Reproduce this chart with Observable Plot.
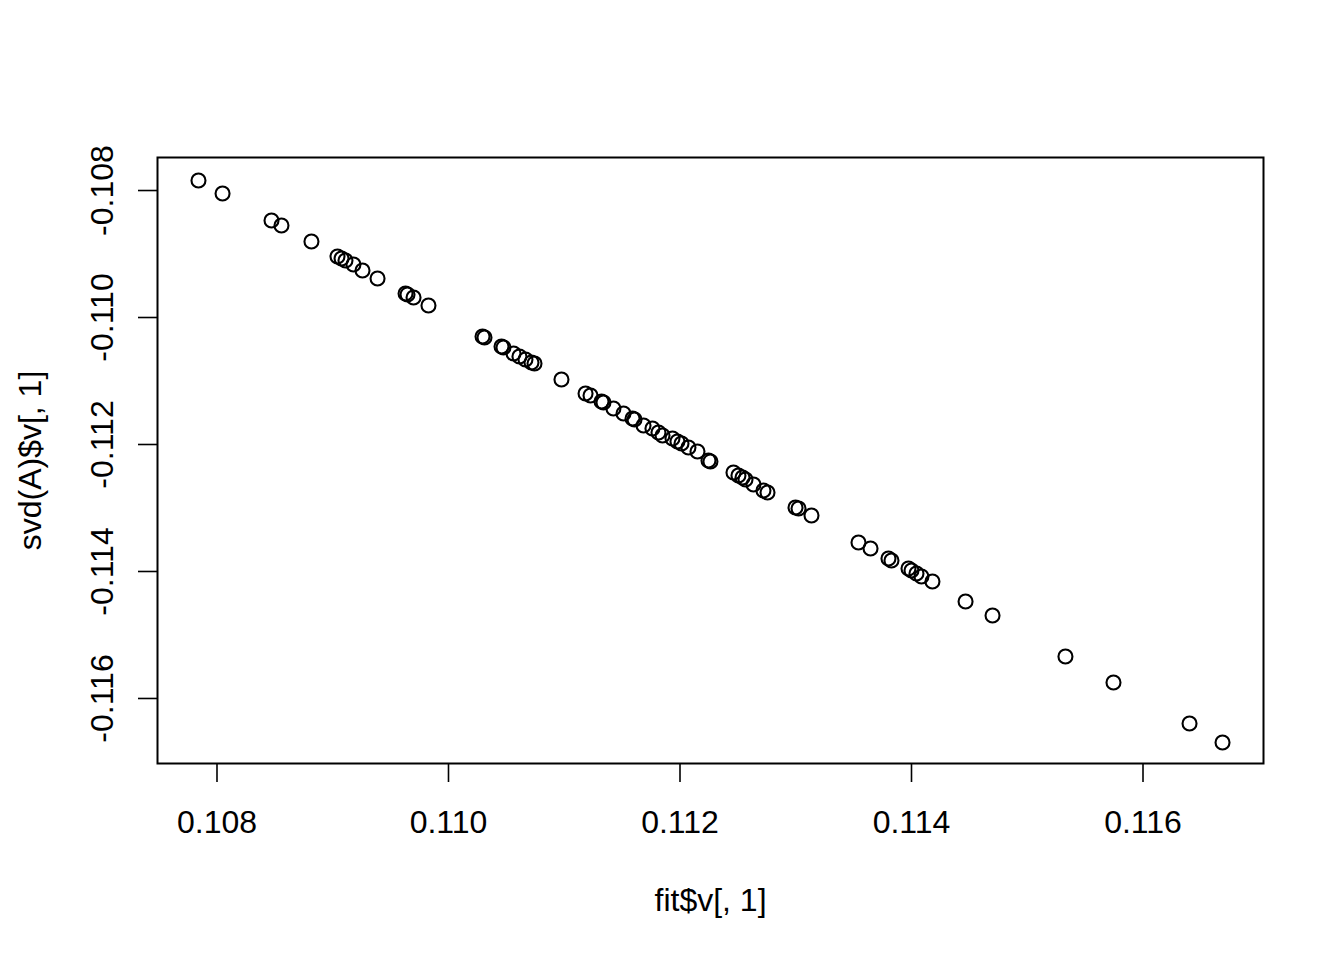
<!DOCTYPE html>
<html>
<head>
<meta charset="utf-8">
<script src="https://cdn.jsdelivr.net/npm/d3@7"></script>
<script src="https://cdn.jsdelivr.net/npm/@observablehq/plot@0.6"></script>
<style>
  html, body { margin: 0; padding: 0; background: #fff; }
  #chart { width: 1344px; height: 960px; }
</style>
</head>
<body>
<div id="chart"></div>
<script>
// fit$v[, 1] vs svd(A)$v[, 1].
const fitV = [
  0.107840, 0.108048, 0.108471, 0.108557, 0.108816, 0.109041, 0.109076, 0.109110,
  0.109179, 0.109257, 0.109387, 0.109629, 0.109646, 0.109698, 0.109827,
  0.110294, 0.110311, 0.110458, 0.110475, 0.110562, 0.110613, 0.110665, 0.110717,
  0.110743, 0.110976,
  0.111184, 0.111227, 0.111322, 0.111339, 0.111425, 0.111512, 0.111590, 0.111607,
  0.111685, 0.111762, 0.111814, 0.111849, 0.111935, 0.111978, 0.112013, 0.112073,
  0.112151, 0.112246, 0.112263,
  0.112462, 0.112505, 0.112540, 0.112566, 0.112635, 0.112721, 0.112756,
  0.112998, 0.113024, 0.113136,
  0.113542, 0.113646, 0.113801, 0.113827, 0.113974, 0.114000, 0.114043, 0.114086,
  0.114181, 0.114467, 0.114700, 0.115330, 0.115745, 0.116402, 0.116687
];
const svdV = [
  -0.107843, -0.108047, -0.108472, -0.108551, -0.108803, -0.109039, -0.109071, -0.109102,
  -0.109165, -0.109260, -0.109386, -0.109622, -0.109638, -0.109685, -0.109811,
  -0.110299, -0.110315, -0.110457, -0.110472, -0.110567, -0.110614, -0.110661, -0.110709,
  -0.110724, -0.110976,
  -0.111197, -0.111228, -0.111323, -0.111339, -0.111433, -0.111512, -0.111591, -0.111606,
  -0.111701, -0.111748, -0.111811, -0.111858, -0.111906, -0.111953, -0.111984, -0.112047,
  -0.112110, -0.112252, -0.112268,
  -0.112441, -0.112488, -0.112520, -0.112551, -0.112630, -0.112724, -0.112756,
  -0.112992, -0.113008, -0.113118,
  -0.113543, -0.113638, -0.113795, -0.113827, -0.113953, -0.113984, -0.114031, -0.114079,
  -0.114157, -0.114472, -0.114693, -0.115339, -0.115748, -0.116394, -0.116693
];
const xTicks = [0.108, 0.110, 0.112, 0.114, 0.116];
const yTicks = [-0.116, -0.114, -0.112, -0.110, -0.108];
const xTitle = "fit$v[, 1]";
const yTitle = "svd(A)$v[, 1]";

const points = fitV.map(function (x, i) { return { x: x, y: svdV[i] }; });
const fmt = function (d) { return d.toFixed(3); };

const chart = Plot.plot({
  width: 1344,
  height: 960,
  marginLeft: 157,
  marginRight: 81,
  marginTop: 157,
  marginBottom: 197,
  style: {
    background: "#fff",
    color: "#000",
    fontFamily: "'Liberation Sans', Arial, Helvetica, sans-serif",
    fontSize: "32px",
    overflow: "visible",
  },
  // R pads the data range by 4% on each side
  x: { domain: [0.107486, 0.117041], inset: 0 },
  y: { domain: [-0.117024, -0.107480], inset: 0 },
  marks: [
    Plot.axisX({
      ticks: xTicks, tickFormat: fmt, tickSize: 19, tickPadding: 28,
      strokeWidth: 1.6, fontSize: 32, label: null,
    }),
    Plot.axisY({
      ticks: yTicks, tickFormat: fmt, tickSize: 19, tickPadding: 26,
      tickRotate: -90, strokeWidth: 1.6, fontSize: 32, label: null,
    }),
    Plot.frame({ stroke: "#000", strokeWidth: 2 }),
    Plot.dot(points, {
      x: "x", y: "y", r: 7,
      stroke: "#000", strokeWidth: 2.1, fill: "none",
    }),
    // axis titles, placed like R's xlab / ylab
    Plot.text([xTitle], {
      text: function (d) { return d; },
      frameAnchor: "bottom", dy: 147, lineAnchor: "bottom",
      fontSize: 32, fill: "#000",
    }),
    Plot.text([yTitle], {
      text: function (d) { return d; },
      frameAnchor: "left", dx: -117, rotate: -90,
      textAnchor: "middle", lineAnchor: "bottom",
      fontSize: 32, fill: "#000",
    }),
  ],
});
document.getElementById("chart").appendChild(chart);
</script>
</body>
</html>
